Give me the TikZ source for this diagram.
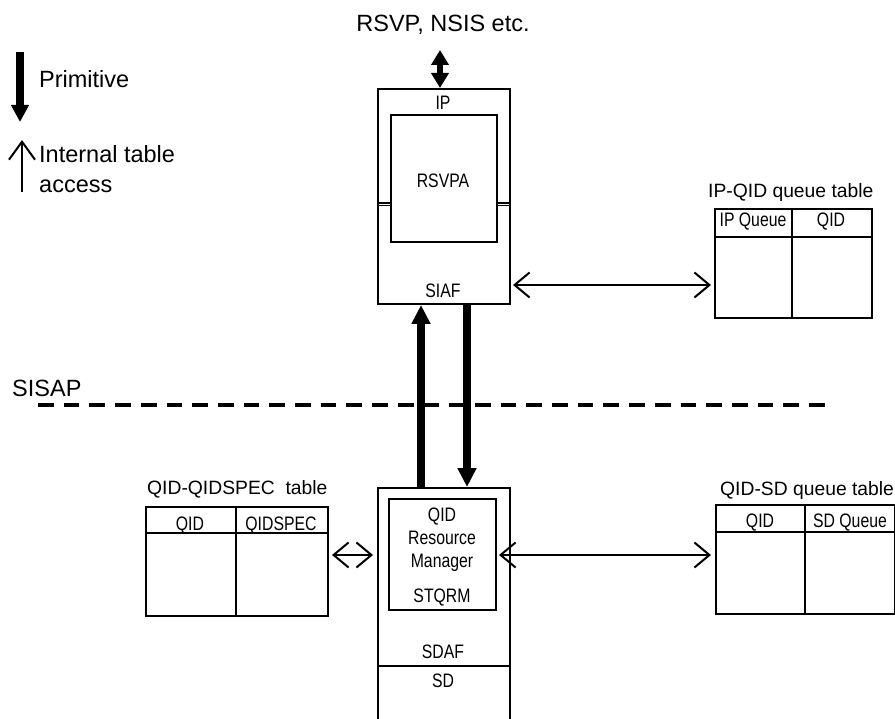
\documentclass[tikz,border=0pt]{standalone}
\usepackage{fontspec}
\setmainfont{Liberation Sans}
\newfontfamily\narrowfont[FakeStretch=0.81]{Liberation Sans}
\usetikzlibrary{arrows.meta}
\newcommand\bigfnt{\fontsize{23.5}{28}\selectfont}
\newcommand\ttlfnt{\fontsize{19.3}{23}\selectfont}
\newcommand\labfnt{\narrowfont\fontsize{19.5}{23}\selectfont}
\begin{document}
\begin{tikzpicture}[x=1pt,y=-1pt,
  box/.style={draw, line width=2pt, inner sep=0pt, anchor=north west},
  lbl/.style={inner sep=0pt, anchor=base, font=\labfnt},
  big/.style={inner sep=0pt, anchor=base west, font=\bigfnt},
  ttl/.style={inner sep=0pt, anchor=base west, font=\ttlfnt},
  prim/.style={line width=7.5pt, -{Triangle[length=19pt,width=18pt]}},
  acc/.style={line width=2pt, {Straight Barb[length=15pt,width=25pt]}-{Straight Barb[length=15pt,width=25pt]}},
  sep/.style={line width=2pt},
]
\useasboundingbox (0,0) rectangle (895,719);

% legend
\coordinate (l1a) at (20,52);
\coordinate (l1b) at (20,122);
\draw[line width=8pt, -{Triangle[length=17pt,width=17pt]}] (l1a) -- (l1b);
\coordinate (l2a) at (22,192);
\coordinate (l2b) at (22,140);
\draw[line width=2pt, -{Straight Barb[length=18pt,width=26pt]}] (l2a) -- (l2b);
\node[big] (primt) at (39,88) {Primitive};
\node[big] (intt) at (39,163) {Internal table};
\node[big] (acct) at (39,193) {access};

% top box
\node[box, minimum width=132pt, minimum height=215pt] (siaf) at (377,88) {};
\node[box, minimum width=106pt, minimum height=127pt] (rsvpa) at (390,114) {};
\draw[line width=1.5pt] (siaf.west |- 0,203) -- (rsvpa.west |- 0,203)
  (siaf.west |- 0,205.5) -- (rsvpa.west |- 0,205.5)
  (rsvpa.east |- 0,203) -- (siaf.east |- 0,203)
  (rsvpa.east |- 0,205.5) -- (siaf.east |- 0,205.5);
\node[lbl] (ipt) at (443,110) {IP};
\node[lbl] (rsvpat) at (443,188) {RSVPA};
\node[lbl] (siaft) at (443,298) {SIAF};

\node[big, anchor=base] (rsvpt) at (443,32) {RSVP, NSIS etc.};
\coordinate (ext) at (440,50);
\draw[line width=6.5pt, {Triangle[length=15pt,width=17pt]}-{Triangle[length=15pt,width=17pt]}] (ext) -- (ext |- siaf.north);

% bottom box
\node[box, minimum width=132pt, minimum height=262pt] (sdaf) at (377,487) {};
\draw[sep] (sdaf.west |- 0,666) -- (sdaf.east |- 0,666);
\node[box, minimum width=107pt, minimum height=111pt] (stqrm) at (388,498) {};
\node[lbl] (qidt) at (442,521) {QID};
\node[lbl] (rest) at (442,544) {Resource};
\node[lbl] (mant) at (442,567) {Manager};
\node[lbl] (stqrmt) at (442,602) {STQRM};
\node[lbl] (sdaft) at (443,658) {SDAF};
\node[lbl] (sdt) at (443,687) {SD};

% primitives
\coordinate (pu) at (421,0);
\coordinate (pd) at (467,0);
\draw[prim] (sdaf.north -| pu) -- (siaf.south -| pu);
\draw[prim] (siaf.south -| pd) -- (sdaf.north -| pd);

% SISAP
\node[big] (sisapt) at (12,397) {SISAP};
\coordinate (dl) at (38,405);
\coordinate (dr) at (832,405);
\draw[line width=4pt, dash pattern=on 15.7pt off 10pt] (dl) -- (dr);

% IP-QID table
\node[ttl] (t1) at (708,198) {IP-QID queue table};
\node[box, minimum width=157pt, minimum height=109pt] (iptab) at (714,208) {};
\draw[sep] (iptab.west |- 0,237) -- (iptab.east |- 0,237);
\draw[sep] (iptab.north -| 792,0) -- (iptab.south -| 792,0);
\node[lbl] (h11) at (753,227) {IP Queue};
\node[lbl] (h12) at (831,227) {QID};

% QID-QIDSPEC table
\node[ttl] (t2) at (147,494) {QID-QIDSPEC\ \ table};
\node[box, minimum width=182pt, minimum height=109pt] (spectab) at (145,506) {};
\draw[sep] (spectab.west |- 0,533) -- (spectab.east |- 0,533);
\draw[sep] (spectab.north -| 236,0) -- (spectab.south -| 236,0);
\node[lbl] (h21) at (190,530) {QID};
\node[lbl] (h22) at (281,530) {QIDSPEC};

% QID-SD table
\node[ttl] (t3) at (720,495) {QID-SD queue table};
\node[box, minimum width=179pt, minimum height=109pt] (sdtab) at (715,504) {};
\draw[sep] (sdtab.west |- 0,532) -- (sdtab.east |- 0,532);
\draw[sep] (sdtab.north -| 805,0) -- (sdtab.south -| 805,0);
\node[lbl] (h31) at (760,527) {QID};
\node[lbl] (h32) at (850,527) {SD Queue};

% table access arrows
\coordinate (r1) at (0,285);
\coordinate (r2) at (0,555);
\draw[acc, shorten <=2pt, shorten >=3pt] (siaf.east |- r1) -- (iptab.west |- r1);
\draw[acc, shorten <=3pt, shorten >=4pt] (spectab.east |- r2) -- (sdaf.west |- r2);
\draw[acc, shorten <=2pt, shorten >=4pt] (stqrm.east |- r2) -- (sdtab.west |- r2);
\end{tikzpicture}
\end{document}
